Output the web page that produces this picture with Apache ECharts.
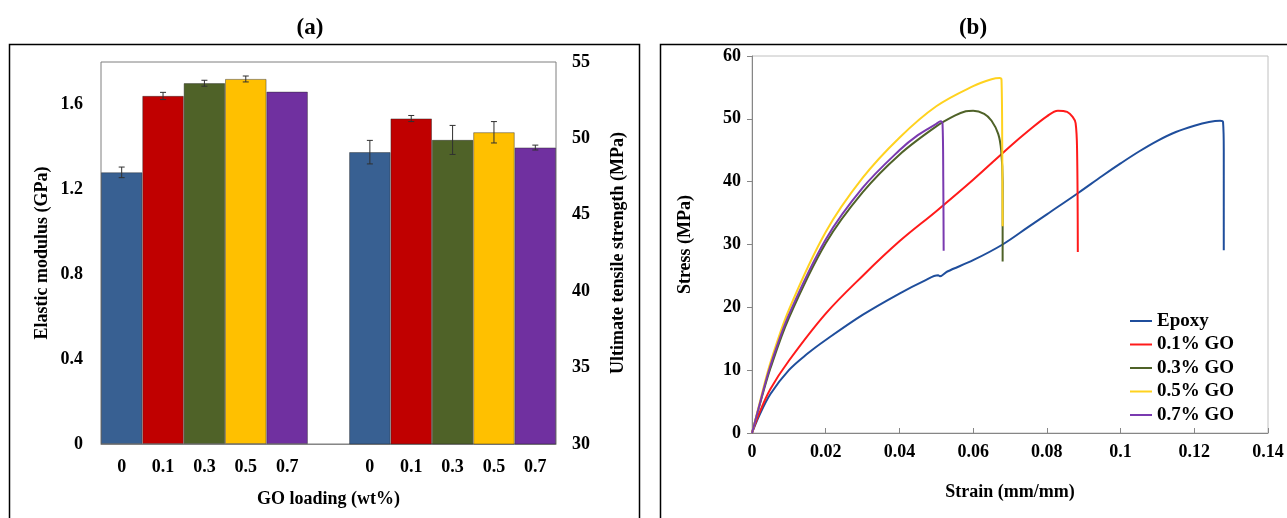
<!DOCTYPE html>
<html>
<head>
<meta charset="utf-8">
<script src="https://cdn.jsdelivr.net/npm/echarts@6/dist/echarts.min.js"></script>
<style>
  html, body { margin: 0; padding: 0; background: #fff; }
  #chart { width: 1287px; height: 518px; }
</style>
</head>
<body>
<div id="chart"></div>
<script>
// ---- Panel (a): elastic modulus and ultimate tensile strength vs GO loading ----
const loadings = ['0', '0.1', '0.3', '0.5', '0.7'];
const barColors = ['#386092', '#c00000', '#4f6228', '#ffc000', '#7030a0'];
const modulus = [1.28, 1.64, 1.70, 1.72, 1.66];          // GPa
const modulusErr = [0.025, 0.017, 0.014, 0.014, 0];
const uts = [49.1, 51.3, 49.9, 50.4, 49.4];               // MPa
const utsErr = [0.77, 0.2, 0.95, 0.7, 0.16];
const modulusTicks = { min: 0, max: 1.8, interval: 0.4 };
const utsTicks = { min: 30, max: 55, interval: 5 };

// ---- Panel (b): stress-strain curves ----
const curveNames = ['Epoxy', '0.1% GO', '0.3% GO', '0.5% GO', '0.7% GO'];
const curveColors = ['#1f4e9c', '#ff1a1a', '#4f6228', '#ffd21f', '#7a3ab0'];
const epoxyCurve = [
  [0, 0], [0.002, 2.8], [0.005, 6.2], [0.01, 10], [0.015, 12.6], [0.02, 14.8],
  [0.03, 18.8], [0.04, 22.2], [0.047, 24.3], [0.0505, 25.1], [0.051, 24.95],
  [0.053, 25.7], [0.06, 27.5], [0.068, 30], [0.075, 32.8], [0.08, 34.8],
  [0.0885, 38.2], [0.095, 40.9], [0.1, 42.9], [0.105, 44.8], [0.11, 46.5],
  [0.115, 47.9], [0.12, 48.9], [0.124, 49.5], [0.127, 49.7], [0.1278, 49.5],
  [0.128, 45], [0.128, 29.1]
];
const go01Curve = [
  [0, 0], [0.002, 3.2], [0.005, 7], [0.01, 11.5], [0.02, 19], [0.03, 25],
  [0.04, 30.5], [0.05, 35.3], [0.06, 40.3], [0.07, 45.6], [0.075, 48.1],
  [0.08, 50.4], [0.083, 51.3], [0.0855, 51.1], [0.087, 50.3], [0.0878, 49.3],
  [0.0882, 45], [0.0884, 28.8]
];
const go03Curve = [
  [0, 0], [0.002, 4.3], [0.005, 10.3], [0.01, 18.3], [0.02, 30.2], [0.03, 38.3],
  [0.04, 44.3], [0.05, 48.8], [0.055, 50.5], [0.058, 51.2], [0.06, 51.3],
  [0.063, 50.8], [0.065, 49.7], [0.0668, 47.6], [0.0676, 45], [0.068, 40],
  [0.068, 27.3]
];
const go05Curve = [
  [0, 0], [0.002, 4.6], [0.005, 11.2], [0.01, 19.6], [0.02, 32], [0.03, 40.6],
  [0.04, 47], [0.05, 52], [0.06, 55.2], [0.065, 56.3], [0.0672, 56.5],
  [0.0677, 56.2], [0.0679, 45], [0.068, 32.9]
];
const go07Curve = [
  [0, 0], [0.002, 4.4], [0.005, 10.7], [0.01, 18.8], [0.02, 30.8], [0.03, 39],
  [0.04, 45], [0.045, 47.4], [0.05, 49.2], [0.0512, 49.6], [0.0517, 49.2],
  [0.0519, 40], [0.052, 29]
];
const curves = [epoxyCurve, go01Curve, go03Curve, go05Curve, go07Curve];
const strainTicks = { min: 0, max: 0.14, interval: 0.02 };
const stressTicks = { min: 0, max: 60, interval: 10 };

const FONT = "'Liberation Serif', 'Times New Roman', serif";
const labelStyle = { color: '#000', fontFamily: FONT, fontWeight: 'bold', fontSize: 18 };
const nameStyle = { color: '#000', fontFamily: FONT, fontWeight: 'bold', fontSize: 18 };
const axisGrey = '#868686';

// categories: two groups of loadings separated by an empty slot
const categories = loadings.concat([''], loadings);
const offsetB = loadings.length + 1;

const modulusBars = categories.map((c, i) => i < loadings.length
  ? { value: modulus[i], itemStyle: { color: barColors[i] } } : '-');
const utsBars = categories.map((c, i) => i >= offsetB
  ? { value: uts[i - offsetB], itemStyle: { color: barColors[i - offsetB] } } : '-');

function errorBarRender(params, api) {
  const idx = api.value(0), v = api.value(1), e = api.value(2);
  if (!e) return null;
  const top = api.coord([idx, v + e]);
  const bot = api.coord([idx, v - e]);
  const hw = 3;
  const style = { stroke: '#303030', lineWidth: 1 };
  return {
    type: 'group',
    children: [
      { type: 'line', shape: { x1: top[0], y1: top[1], x2: bot[0], y2: bot[1] }, style },
      { type: 'line', shape: { x1: top[0] - hw, y1: top[1], x2: top[0] + hw, y2: top[1] }, style },
      { type: 'line', shape: { x1: bot[0] - hw, y1: bot[1], x2: bot[0] + hw, y2: bot[1] }, style }
    ]
  };
}

const chart = echarts.init(document.getElementById('chart'), null, { renderer: 'canvas' });

const titleStyle = { fontFamily: FONT, fontWeight: 'bold', fontSize: 23, color: '#000' };

const option = {
  animation: false,
  backgroundColor: '#fff',
  title: [
    { text: '(a)', left: 305, top: 12, textAlign: 'center', textStyle: titleStyle },
    { text: '(b)', left: 968, top: 12, textAlign: 'center', textStyle: titleStyle }
  ],
  graphic: [
    { type: 'rect', shape: { x: 9.5, y: 44.5, width: 630, height: 520 },
      style: { fill: 'none', stroke: '#000', lineWidth: 1.5 }, silent: true },
    { type: 'rect', shape: { x: 660.5, y: 44.5, width: 700, height: 520 },
      style: { fill: 'none', stroke: '#000', lineWidth: 1.5 }, silent: true }
  ],
  legend: {
    data: curveNames,
    orient: 'vertical',
    left: 1125, top: 306,
    itemWidth: 22, itemHeight: 2, itemGap: 3.5,
    icon: 'rect',
    textStyle: { fontFamily: FONT, fontWeight: 'bold', fontSize: 19, color: '#000', lineHeight: 20 },
    selectedMode: false
  },
  grid: [
    { left: 101, top: 62, width: 455, height: 382, show: true,
      borderColor: '#7f7f7f', borderWidth: 1, backgroundColor: 'transparent' },
    { left: 752, top: 56, width: 516, height: 377, show: true,
      borderColor: '#c0c0c0', borderWidth: 1, backgroundColor: 'transparent' }
  ],
  xAxis: [
    { type: 'category', gridIndex: 0, data: categories,
      name: 'GO loading (wt%)', nameLocation: 'middle', nameGap: 46, nameTextStyle: nameStyle,
      axisLine: { lineStyle: { color: axisGrey } }, axisTick: { show: false },
      axisLabel: Object.assign({ margin: 14, interval: 0 }, labelStyle) },
    { type: 'value', gridIndex: 1, min: strainTicks.min, max: strainTicks.max, interval: strainTicks.interval,
      name: 'Strain (mm/mm)', nameLocation: 'middle', nameGap: 50, nameTextStyle: nameStyle,
      axisLine: { lineStyle: { color: axisGrey } },
      axisTick: { show: true, inside: true, length: 5, lineStyle: { color: axisGrey } },
      splitLine: { show: false },
      axisLabel: Object.assign({ margin: 10 }, labelStyle) }
  ],
  yAxis: [
    { type: 'value', gridIndex: 0, position: 'left',
      min: modulusTicks.min, max: modulusTicks.max, interval: modulusTicks.interval,
      name: 'Elastic modulus (GPa)', nameLocation: 'middle', nameGap: 50, nameRotate: 90,
      nameTextStyle: nameStyle,
      axisLine: { show: false }, axisTick: { show: false }, splitLine: { show: false },
      axisLabel: Object.assign({ margin: 18, showMaxLabel: false }, labelStyle) },
    { type: 'value', gridIndex: 0, position: 'right',
      min: utsTicks.min, max: utsTicks.max, interval: utsTicks.interval,
      name: 'Ultimate tensile strength (MPa)', nameLocation: 'middle', nameGap: 53, nameRotate: 90,
      nameTextStyle: nameStyle,
      axisLine: { show: false }, axisTick: { show: false }, splitLine: { show: false },
      axisLabel: Object.assign({ margin: 16 }, labelStyle) },
    { type: 'value', gridIndex: 1, min: stressTicks.min, max: stressTicks.max, interval: stressTicks.interval,
      name: 'Stress (MPa)', nameLocation: 'middle', nameGap: 58, nameRotate: 90,
      nameTextStyle: nameStyle,
      axisLine: { show: true, lineStyle: { color: axisGrey } },
      axisTick: { show: true, length: 5, lineStyle: { color: axisGrey } },
      splitLine: { show: false },
      axisLabel: Object.assign({ margin: 11 }, labelStyle) }
  ],
  series: [
    { type: 'bar', xAxisIndex: 0, yAxisIndex: 0, data: modulusBars,
      barWidth: '100%', barGap: '-100%', barCategoryGap: 0,
      itemStyle: { borderColor: 'rgba(40,40,40,0.55)', borderWidth: 0.8 } },
    { type: 'bar', xAxisIndex: 0, yAxisIndex: 1, data: utsBars,
      barWidth: '100%', barGap: '-100%', barCategoryGap: 0,
      itemStyle: { borderColor: 'rgba(40,40,40,0.55)', borderWidth: 0.8 } },
    { type: 'custom', xAxisIndex: 0, yAxisIndex: 0, z: 5,
      renderItem: errorBarRender, encode: { x: 0, y: 1 },
      data: modulus.map((v, i) => [i, v, modulusErr[i]]) },
    { type: 'custom', xAxisIndex: 0, yAxisIndex: 1, z: 5,
      renderItem: errorBarRender, encode: { x: 0, y: 1 },
      data: uts.map((v, i) => [i + offsetB, v, utsErr[i]]) }
  ].concat(curves.map((pts, i) => ({
    type: 'line', name: curveNames[i], xAxisIndex: 1, yAxisIndex: 2,
    data: pts, showSymbol: false, smooth: 0.35,
    lineStyle: { color: curveColors[i], width: 2 },
    itemStyle: { color: curveColors[i] },
    z: 3
  })))
};

chart.setOption(option);
</script>
</body>
</html>
